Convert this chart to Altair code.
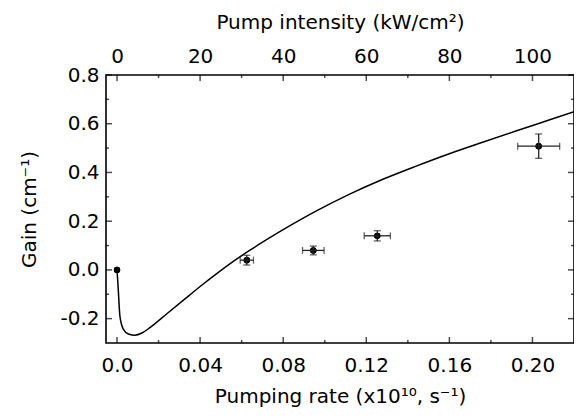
import altair as alt
import pandas as pd

# ---- data ----
rate = [0.0, 0.0625, 0.0945, 0.1253, 0.2030]
gain = [0.0, 0.040, 0.080, 0.140, 0.508]
rate_err = [0.0, 0.0032, 0.0052, 0.0063, 0.0101]
gain_err = [0.0, 0.020, 0.018, 0.021, 0.050]

curve_rate = [0.0, 0.0006, 0.0014, 0.003, 0.0055, 0.0087, 0.012, 0.016, 0.024,
              0.032, 0.040, 0.048, 0.056, 0.064, 0.072, 0.080, 0.096, 0.112,
              0.128, 0.144, 0.160, 0.176, 0.192, 0.208, 0.220]
curve_gain = [0.0, -0.08, -0.19, -0.243, -0.263, -0.268, -0.259, -0.236, -0.180,
              -0.124, -0.068, -0.015, 0.035, 0.081, 0.124, 0.165, 0.242, 0.311,
              0.372, 0.426, 0.477, 0.524, 0.570, 0.615, 0.649]

x_major = [0.0, 0.04, 0.08, 0.12, 0.16, 0.20]
x_minor = [0.02, 0.06, 0.10, 0.14, 0.18]
y_major = [-0.2, 0.0, 0.2, 0.4, 0.6, 0.8]
y_minor = [-0.1, 0.1, 0.3, 0.5, 0.7]
intensity_per_rate = 500  # 0.20 (x10^10 s^-1) <-> 100 kW/cm^2

x_title = "Pumping rate (x10\u00b9\u2070, s\u207b\u00b9)"
top_title = "Pump intensity (kW/cm\u00b2)"
y_title = "Gain (cm\u207b\u00b9)"

X_DOMAIN = [-0.0053, 0.22]
Y_DOMAIN = [-0.3, 0.8]

# ---- tables ----
pts = pd.DataFrame({"rate": rate, "gain": gain})
err = pd.DataFrame({
    "rate": rate, "gain": gain,
    "xlo": [r - e for r, e in zip(rate, rate_err)],
    "xhi": [r + e for r, e in zip(rate, rate_err)],
    "ylo": [g - e for g, e in zip(gain, gain_err)],
    "yhi": [g + e for g, e in zip(gain, gain_err)],
}).iloc[1:]
xcaps = pd.concat([
    pd.DataFrame({"cx": err["xlo"], "gain": err["gain"]}),
    pd.DataFrame({"cx": err["xhi"], "gain": err["gain"]}),
])
ycaps = pd.concat([
    pd.DataFrame({"rate": err["rate"], "cy": err["ylo"]}),
    pd.DataFrame({"rate": err["rate"], "cy": err["yhi"]}),
])
curve = pd.DataFrame({"rate": curve_rate, "gain": curve_gain})

# frame tick tables (tick values placed at the frame edges of the scales)
xt_major = pd.DataFrame({"v": x_major, "lo": Y_DOMAIN[0], "hi": Y_DOMAIN[1]})
xt_minor = pd.DataFrame({"v": x_minor, "lo": Y_DOMAIN[0], "hi": Y_DOMAIN[1]})
yt_major = pd.DataFrame({"v": y_major, "lo": X_DOMAIN[0], "hi": X_DOMAIN[1]})
yt_minor = pd.DataFrame({"v": y_minor, "lo": X_DOMAIN[0], "hi": X_DOMAIN[1]})

FONT = "DejaVu Sans"
FS = 20
TS = 5
MAJ, MIN = 6, 3

xs = alt.Scale(domain=X_DOMAIN, nice=False, zero=False)
ys = alt.Scale(domain=Y_DOMAIN, nice=False, zero=False)

LBL = dict(labelFont=FONT, labelFontSize=FS, labelColor="black",
           titleFont=FONT, titleFontSize=FS, titleColor="black",
           titleFontWeight="normal")

bottom_ax = alt.Axis(orient="bottom", values=x_major, tickSize=TS, offset=-TS,
                     tickOpacity=0, domain=False, grid=False,
                     title=x_title, labelPadding=12, titlePadding=11,
                     labelExpr="datum.value == 0 ? '0.0' : format(datum.value, '.2f')",
                     **LBL)
top_ax = alt.Axis(orient="top", values=x_major, tickSize=TS, offset=-TS,
                  tickOpacity=0, domain=False, grid=False,
                  title=top_title, labelPadding=9, titlePadding=14,
                  labelExpr=f"format(datum.value * {intensity_per_rate}, 'd')",
                  **LBL)
left_ax = alt.Axis(orient="left", values=y_major, tickSize=TS, offset=-TS,
                   tickOpacity=0, domain=False, grid=False,
                   title=y_title, labelPadding=7, titlePadding=20,
                   labelExpr="replace(format(datum.value, '.1f'), '\u2212', '-')",
                   **LBL)
right_ax = alt.Axis(orient="right", values=y_major, tickSize=TS, offset=-TS,
                    tickOpacity=0, domain=False, grid=False,
                    labels=False, title="")

points = alt.Chart(pts).mark_point(filled=True, color="black", size=40,
                                   opacity=1).encode(
    x=alt.X("rate:Q", scale=xs, axis=bottom_ax),
    y=alt.Y("gain:Q", scale=ys, axis=left_ax),
)
points2 = alt.Chart(pts).mark_point(filled=True, color="black", size=40,
                                    opacity=1).encode(
    x=alt.X("rate:Q", scale=xs, axis=top_ax),
    y=alt.Y("gain:Q", scale=ys, axis=right_ax),
)
line = alt.Chart(curve).mark_line(color="black", strokeWidth=1.5,
                                  interpolate="monotone").encode(
    x=alt.X("rate:Q", scale=xs, axis=None),
    y=alt.Y("gain:Q", scale=ys, axis=None),
)
xbars = alt.Chart(err).mark_rule(color="#222", strokeWidth=1.3).encode(
    x=alt.X("xlo:Q", scale=xs, axis=None),
    x2="xhi:Q",
    y=alt.Y("gain:Q", scale=ys, axis=None),
)
ybars = alt.Chart(err).mark_rule(color="#222", strokeWidth=1.3).encode(
    x=alt.X("rate:Q", scale=xs, axis=None),
    y=alt.Y("ylo:Q", scale=ys, axis=None),
    y2="yhi:Q",
)
xcap = alt.Chart(xcaps).mark_tick(orient="vertical", size=7, thickness=1.3,
                                  color="#222").encode(
    x=alt.X("cx:Q", scale=xs, axis=None),
    y=alt.Y("gain:Q", scale=ys, axis=None),
)
ycap = alt.Chart(ycaps).mark_tick(orient="horizontal", size=7, thickness=1.3,
                                  color="#222").encode(
    x=alt.X("rate:Q", scale=xs, axis=None),
    y=alt.Y("cy:Q", scale=ys, axis=None),
)


def xticks(df, size, edge, sign):
    return alt.Chart(df).mark_tick(orient="vertical", size=size, thickness=1.5,
                                   color="black", yOffset=sign * size / 2).encode(
        x=alt.X("v:Q", scale=xs, axis=None),
        y=alt.Y(f"{edge}:Q", scale=ys, axis=None),
    )


def yticks(df, size, edge, sign):
    return alt.Chart(df).mark_tick(orient="horizontal", size=size, thickness=1.5,
                                   color="black", xOffset=sign * size / 2).encode(
        x=alt.X(f"{edge}:Q", scale=xs, axis=None),
        y=alt.Y("v:Q", scale=ys, axis=None),
    )


frame_ticks = [
    xticks(xt_major, MAJ, "lo", -1), xticks(xt_minor, MIN, "lo", -1),
    xticks(xt_major, MAJ, "hi", 1), xticks(xt_minor, MIN, "hi", 1),
    yticks(yt_major, MAJ, "lo", 1), yticks(yt_minor, MIN, "lo", 1),
    yticks(yt_major, MAJ, "hi", -1), yticks(yt_minor, MIN, "hi", -1),
]

chart = alt.layer(points, points2, line, xbars, ybars, xcap, ycap,
                  *frame_ticks).resolve_axis(
    x="independent", y="independent"
).properties(
    width=468, height=268,
    autosize=alt.AutoSizeParams(type="none"),
    padding={"left": 98, "top": 67, "right": 0, "bottom": 68},
    background="white",
).configure_view(stroke="black", strokeWidth=1.6)

chart.save("out.html", embed_options={"renderer": "svg", "actions": False})
